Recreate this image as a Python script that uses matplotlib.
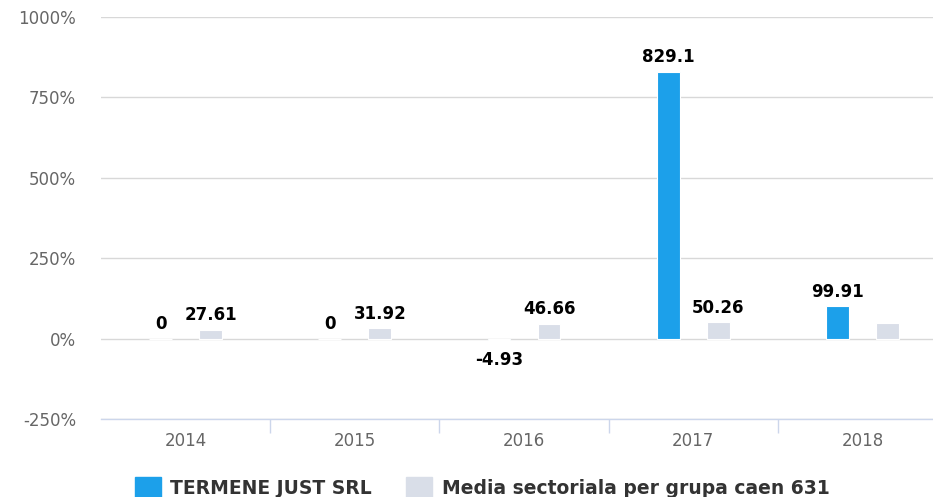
import numpy as np
import matplotlib.pyplot as plt
from matplotlib.patches import Patch
from matplotlib.ticker import FuncFormatter

ani = ['2014', '2015', '2016', '2017', '2018']
firma = [0, 0, -4.93, 829.1, 99.91]
media = [27.61, 31.92, 46.66, 50.26, 48]
etichete_firma = ['0', '0', '-4.93', '829.1', '99.91']
etichete_media = ['27.61', '31.92', '46.66', '50.26', '']

albastru = '#1ca0ea'
gri = '#d9dee8'

fig = plt.figure(figsize=(9.33, 4.97), dpi=100)
# the plot area runs a bit past the right edge of the picture
ax = fig.add_axes([101 / 933, 78 / 497, 846 / 933, 402 / 497])

x = np.arange(len(ani))
w = 0.135
off = 0.148
ax.bar(x - off, firma, w, color=albastru, edgecolor='white', linewidth=0.8, zorder=3)
ax.bar(x + off, media, w, color=gri, edgecolor='white', linewidth=0.8, zorder=3)

for i in range(len(ani)):
    v = firma[i]
    if v >= 0:
        ax.annotate(etichete_firma[i], (x[i] - off, v), xytext=(0, 4), textcoords='offset points',
                    ha='center', va='bottom', fontsize=12, fontweight='bold', color='black', zorder=5)
    else:
        ax.annotate(etichete_firma[i], (x[i] - off, v), xytext=(0, -8), textcoords='offset points',
                    ha='center', va='top', fontsize=12, fontweight='bold', color='black', zorder=5)
    if etichete_media[i]:
        ax.annotate(etichete_media[i], (x[i] + off, media[i]), xytext=(0, 4), textcoords='offset points',
                    ha='center', va='bottom', fontsize=12, fontweight='bold', color='black', zorder=5)

ax.set_xlim(-0.5, len(ani) - 0.5)
ax.set_ylim(-250, 1000)
ax.set_yticks([-250, 0, 250, 500, 750, 1000])
ax.yaxis.set_major_formatter(FuncFormatter(lambda v, p: '%d%%' % v))
ax.grid(axis='y', color='#d8d8d8', linewidth=1, zorder=0)
ax.set_xticks(x)
ax.set_xticklabels(ani)
ax.set_xticks(np.arange(0.5, len(ani) - 0.5, 1), minor=True)
ax.tick_params(axis='x', which='major', length=0, pad=9, labelsize=12, labelcolor='#666666')
ax.tick_params(axis='x', which='minor', length=10, color='#ccd6eb', width=1)
ax.tick_params(axis='y', length=0, pad=18, labelsize=12, labelcolor='#666666')

for s in ['top', 'right', 'left']:
    ax.spines[s].set_visible(False)
ax.spines['bottom'].set_color('#ccd6eb')
ax.spines['bottom'].set_linewidth(1)

handles = [Patch(color=albastru, label='TERMENE JUST SRL'),
           Patch(color=gri, label='Media sectoriala per grupa caen 631')]
leg = fig.legend(handles=handles, loc='center', bbox_to_anchor=(482 / 933, 9 / 497), ncol=2,
                 frameon=False, prop={'weight': 'bold', 'size': 13.5}, handlelength=1.4,
                 handleheight=1.4, columnspacing=1.8, handletextpad=0.5)
for t in leg.get_texts():
    t.set_color('#333333')

fig.savefig('out.png', dpi=100)
